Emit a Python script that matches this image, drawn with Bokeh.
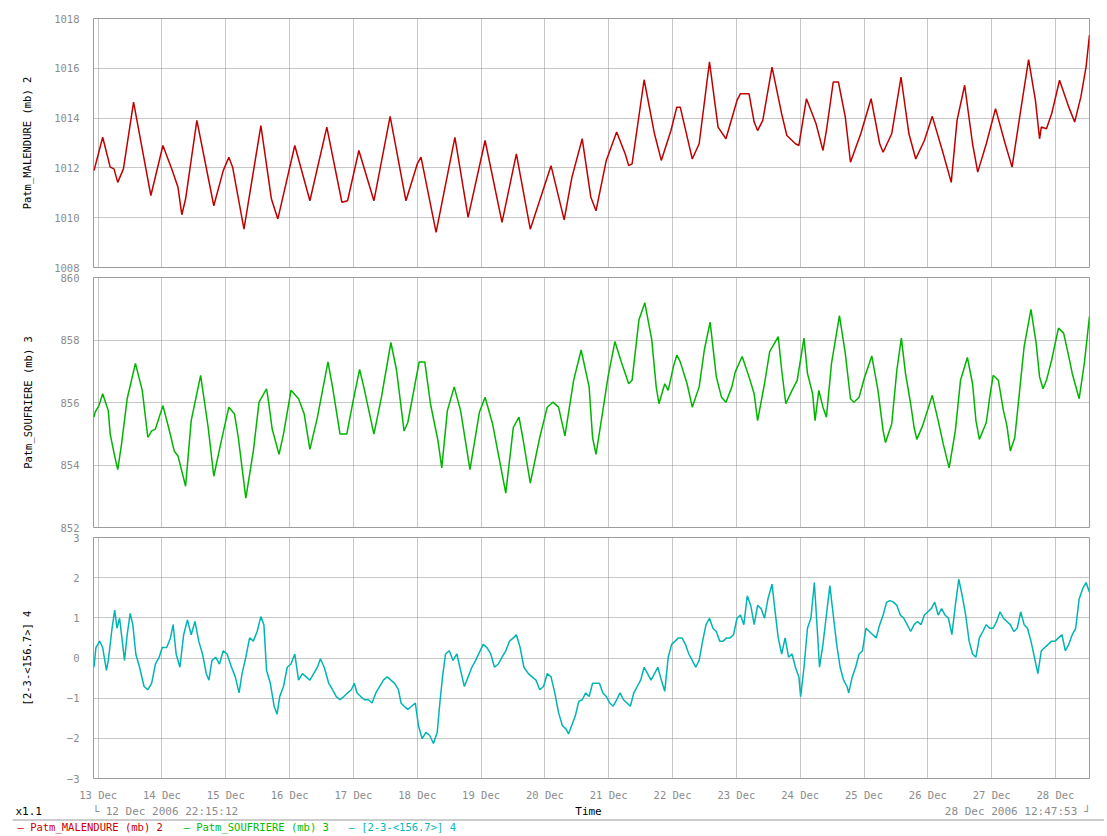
import datetime as dt
from bokeh.plotting import figure
from bokeh.layouts import column
from bokeh.models import Range1d, FixedTicker, DatetimeTickFormatter
from bokeh.embed import file_html
from bokeh.resources import INLINE
from bokeh.core.properties import value

# ---------------- data (time in days after 13 Dec 2006 00:00) ----------------
MAL_T = [-0.065, 0.071, 0.189, 0.248, 0.307, 0.396, 0.555, 0.826, 1.015, 1.163,
         1.251, 1.311, 1.370, 1.547, 1.812, 1.960, 2.048, 2.107, 2.285, 2.550,
         2.715, 2.816, 3.081, 3.318, 3.583, 3.819, 3.908, 4.085, 4.321, 4.575,
         4.823, 5.000, 5.059, 5.295, 5.590, 5.797, 6.063, 6.328, 6.553, 6.771,
         7.096, 7.302, 7.423, 7.585, 7.720, 7.801, 7.962, 8.124, 8.259, 8.313,
         8.366, 8.555, 8.717, 8.824, 8.975, 9.067, 9.121, 9.309, 9.417, 9.579,
         9.713, 9.837, 10.010, 10.064, 10.198, 10.279, 10.333, 10.414, 10.559, 10.710,
         10.791, 10.926, 10.980, 11.098, 11.249, 11.357, 11.411, 11.518, 11.599, 11.707,
         11.788, 11.949, 12.111, 12.246, 12.300, 12.434, 12.580, 12.704, 12.811, 12.946,
         13.070, 13.243, 13.367, 13.458, 13.577, 13.701, 13.782, 13.916, 14.061, 14.212,
         14.320, 14.455, 14.579, 14.686, 14.751, 14.778, 14.859, 14.940, 15.064, 15.209,
         15.301, 15.398, 15.479, 15.533]
MAL_V = [1011.89, 1013.23, 1012.03, 1011.96, 1011.42, 1011.96, 1014.64, 1010.89, 1012.90, 1011.89,
         1011.22, 1010.12, 1010.75, 1013.91, 1010.48, 1011.89, 1012.43, 1012.03, 1009.54, 1013.70,
         1010.75, 1009.95, 1012.90, 1010.68, 1013.64, 1010.62, 1010.68, 1012.70, 1010.68, 1014.07,
         1010.68, 1012.16, 1012.43, 1009.41, 1013.23, 1010.01, 1013.10, 1009.81, 1012.56, 1009.54,
         1012.09, 1009.91, 1011.62, 1013.17, 1010.82, 1010.28, 1012.30, 1013.44, 1012.56, 1012.09,
         1012.16, 1015.54, 1013.37, 1012.30, 1013.50, 1014.44, 1014.44, 1012.36, 1012.97, 1016.26,
         1013.64, 1013.17, 1014.71, 1014.98, 1014.98, 1013.84, 1013.50, 1013.91, 1016.05, 1014.17,
         1013.30, 1012.97, 1012.90, 1014.78, 1013.77, 1012.70, 1013.50, 1015.45, 1015.45, 1014.04,
         1012.23, 1013.37, 1014.78, 1012.97, 1012.63, 1013.37, 1015.65, 1013.37, 1012.36, 1013.10,
         1014.07, 1012.56, 1011.42, 1013.91, 1015.32, 1012.97, 1011.83, 1012.97, 1014.38, 1012.97,
         1012.03, 1014.31, 1016.35, 1014.71, 1013.17, 1013.64, 1013.57, 1014.17, 1015.52, 1014.44,
         1013.84, 1014.85, 1016.05, 1017.33]

SOU_T = [-0.065, -0.047, 0.012, 0.071, 0.159, 0.189, 0.248, 0.307, 0.366, 0.455,
         0.584, 0.691, 0.779, 0.838, 0.897, 1.015, 1.104, 1.192, 1.251, 1.370,
         1.458, 1.606, 1.724, 1.812, 1.930, 2.048, 2.137, 2.196, 2.314, 2.432,
         2.521, 2.639, 2.668, 2.727, 2.834, 2.904, 3.022, 3.140, 3.229, 3.318,
         3.436, 3.601, 3.672, 3.790, 3.896, 3.996, 4.097, 4.174, 4.321, 4.439,
         4.587, 4.675, 4.793, 4.852, 5.030, 5.118, 5.207, 5.325, 5.384, 5.472,
         5.579, 5.679, 5.826, 5.974, 6.063, 6.181, 6.387, 6.505, 6.594, 6.653,
         6.771, 6.919, 7.037, 7.125, 7.214, 7.314, 7.450, 7.568,
         7.693, 7.747, 7.801, 7.908, 7.989, 8.097, 8.205, 8.313, 8.366, 8.474,
         8.566, 8.674, 8.744, 8.787, 8.878, 8.932, 9.013, 9.067, 9.121, 9.228,
         9.309, 9.417, 9.498, 9.589, 9.686, 9.767, 9.837, 9.929, 9.983, 10.091,
         10.198, 10.279, 10.333, 10.441, 10.522, 10.656, 10.710, 10.775, 10.872, 10.953,
         11.060, 11.114, 11.195, 11.233, 11.292, 11.357, 11.411, 11.491, 11.615, 11.707,
         11.788, 11.842, 11.923, 12.003, 12.122, 12.219, 12.300, 12.337, 12.434, 12.515,
         12.585, 12.650, 12.731, 12.785, 12.828, 12.919, 13.070, 13.162, 13.243, 13.334,
         13.431, 13.512, 13.620, 13.701, 13.754, 13.808, 13.916, 13.970, 14.024, 14.105,
         14.185, 14.239, 14.293, 14.363, 14.428, 14.509, 14.616, 14.697, 14.751, 14.805,
         14.859, 14.940, 15.047, 15.128, 15.209, 15.263, 15.371, 15.452, 15.533]
SOU_V = [855.53, 855.69, 855.90, 856.28, 855.74, 854.99, 854.39, 853.85, 854.66, 856.12,
         857.25, 856.39, 854.88, 855.09, 855.15, 855.90, 855.20, 854.45, 854.29, 853.32,
         855.42, 856.87, 855.20, 853.64, 854.77, 855.85, 855.63, 854.88, 852.94, 854.45,
         856.01, 856.44, 856.06, 855.15, 854.34, 854.99, 856.39, 856.12, 855.63, 854.50,
         855.53, 857.30, 856.50, 854.99, 854.99, 856.06, 857.06, 856.39, 854.99, 856.17,
         857.92, 857.04, 855.09, 855.36, 857.30, 857.30, 855.96, 854.77, 853.91, 855.74,
         856.50, 855.74, 853.85, 855.69, 856.17, 855.31, 853.10, 855.20, 855.53, 854.88,
         853.42, 854.88, 855.85, 856.01, 855.85, 854.93, 856.71, 857.68,
         856.50, 854.88, 854.34, 855.74, 856.82, 857.95, 857.25, 856.60, 856.71, 858.65,
         859.19, 858.01, 856.50, 855.96, 856.60, 856.39, 857.14, 857.52, 857.30, 856.60,
         855.85, 856.50, 857.68, 858.57, 856.82, 856.17, 856.01, 856.50, 856.98, 857.47,
         856.82, 856.28, 855.42, 856.60, 857.63, 858.11, 857.04, 855.96, 856.39, 856.71,
         858.06, 856.93, 856.28, 855.42, 856.39, 855.85, 855.53, 857.25, 858.78, 857.57,
         856.12, 856.01, 856.17, 856.77, 857.49, 856.39, 855.09, 854.72, 855.31, 857.04,
         858.06, 856.93, 855.96, 855.20, 854.82, 855.26, 856.23, 855.42, 854.66, 853.91,
         855.09, 856.71, 857.44, 856.60, 855.42, 854.82, 855.36, 856.17, 856.87, 856.71,
         855.74, 855.26, 854.45, 854.88, 856.17, 857.79, 858.98, 857.90, 856.82, 856.44,
         856.71, 857.36, 858.38, 858.22, 857.47, 856.93, 856.12, 857.25, 858.76]

DIF_T = [-0.065, -0.035, 0.024, 0.071, 0.130, 0.159, 0.218, 0.260, 0.295, 0.336,
         0.366, 0.413, 0.455, 0.502, 0.543, 0.590, 0.649, 0.720, 0.779, 0.838,
         0.897, 0.956, 1.004, 1.074, 1.133, 1.175, 1.222, 1.281, 1.340, 1.399,
         1.458, 1.517, 1.576, 1.635, 1.694, 1.736, 1.783, 1.842, 1.901, 1.960,
         2.019, 2.090, 2.149, 2.208, 2.255, 2.314, 2.373, 2.432, 2.491, 2.550,
         2.597, 2.639, 2.698, 2.757, 2.804, 2.845, 2.904, 2.963, 3.022, 3.081,
         3.140, 3.200, 3.259, 3.318, 3.377, 3.436, 3.483, 3.542, 3.613, 3.672,
         3.731, 3.790, 3.849, 3.908, 3.967, 4.014, 4.056, 4.115, 4.174, 4.233,
         4.292, 4.351, 4.410, 4.469, 4.528, 4.587, 4.646, 4.705, 4.746, 4.793,
         4.852, 4.911, 4.970, 5.018, 5.077, 5.136, 5.195, 5.254, 5.313, 5.354,
         5.396, 5.443, 5.502, 5.561, 5.620, 5.679, 5.738, 5.797, 5.856, 5.915,
         5.974, 6.033, 6.092, 6.151, 6.210, 6.269, 6.328, 6.387, 6.446, 6.505,
         6.553, 6.612, 6.671, 6.741, 6.800, 6.860, 6.919, 6.978, 7.037, 7.096,
         7.155, 7.214, 7.273, 7.332, 7.370,
         7.477, 7.531, 7.585, 7.639, 7.693, 7.747, 7.801, 7.855, 7.908, 7.962,
         8.016, 8.070, 8.124, 8.178, 8.232, 8.286, 8.339, 8.393, 8.447, 8.501,
         8.555, 8.609, 8.663, 8.717, 8.770, 8.824, 8.878, 8.932, 8.986, 9.040,
         9.094, 9.148, 9.202, 9.255, 9.309, 9.363, 9.417, 9.471, 9.525, 9.579,
         9.633, 9.686, 9.740, 9.794, 9.848, 9.902, 9.956, 10.010, 10.064, 10.117,
         10.171, 10.225, 10.279, 10.333, 10.387, 10.441, 10.495, 10.559, 10.602, 10.656,
         10.710, 10.764, 10.818, 10.872, 10.926, 10.980, 11.007, 11.060, 11.114, 11.168,
         11.222, 11.276, 11.303, 11.357, 11.411, 11.465, 11.518, 11.572, 11.626, 11.680,
         11.734, 11.761, 11.815, 11.869, 11.923, 11.976, 12.030, 12.084, 12.138, 12.192,
         12.246, 12.300, 12.354, 12.407, 12.461, 12.515, 12.569, 12.623, 12.677, 12.731,
         12.785, 12.838, 12.892, 12.946, 13.000, 13.054, 13.108, 13.162, 13.216, 13.270,
         13.323, 13.377, 13.431, 13.485, 13.539, 13.593, 13.647, 13.701, 13.754, 13.808,
         13.862, 13.916, 13.970, 14.024, 14.078, 14.132, 14.185, 14.239, 14.293, 14.347,
         14.401, 14.455, 14.509, 14.562, 14.616, 14.670, 14.724, 14.778, 14.832, 14.886,
         14.940, 14.994, 15.047, 15.101, 15.155, 15.209, 15.263, 15.317, 15.371, 15.425,
         15.479, 15.533]
DIF_V = [-0.23, 0.26, 0.42, 0.26, -0.31, -0.06, 0.74, 1.19, 0.74, 0.99,
         0.58, -0.06, 0.58, 1.11, 0.83, 0.10, -0.23, -0.71, -0.79, -0.63,
         -0.15, 0.02, 0.26, 0.26, 0.50, 0.83, 0.10, -0.23, 0.58, 0.95,
         0.58, 0.91, 0.42, 0.10, -0.39, -0.55, -0.06, 0.02, -0.15, 0.18,
         0.10, -0.23, -0.47, -0.87, -0.39, 0.02, 0.50, 0.42, 0.66, 1.03,
         0.83, -0.31, -0.63, -1.20, -1.40, -0.96, -0.71, -0.23, -0.15, 0.10,
         -0.55, -0.39, -0.47, -0.55, -0.39, -0.23, -0.02, -0.23, -0.63, -0.79,
         -0.96, -1.04, -0.96, -0.87, -0.79, -0.63, -0.87, -0.96, -1.04, -1.04,
         -1.12, -0.87, -0.71, -0.55, -0.47, -0.55, -0.63, -0.79, -1.12, -1.20,
         -1.28, -1.20, -1.12, -1.68, -2.01, -1.85, -1.93, -2.13, -1.85, -1.12,
         -0.47, 0.10, 0.18, -0.06, 0.10, -0.31, -0.71, -0.47, -0.23, -0.06,
         0.14, 0.34, 0.26, 0.10, -0.23, -0.15, 0.02, 0.18, 0.42, 0.50,
         0.58, 0.26, -0.23, -0.39, -0.47, -0.55, -0.79, -0.71, -0.39, -0.47,
         -0.87, -1.36, -1.68, -1.77, -1.89,
         -1.44, -1.08, -1.04, -0.87, -0.96, -0.63, -0.63, -0.63, -0.87, -0.96,
         -1.12, -1.20, -1.04, -0.87, -1.04, -1.12, -1.20, -0.87, -0.71, -0.55,
         -0.23, -0.39, -0.55, -0.39, -0.23, -0.55, -0.83, 0.02, 0.34, 0.42,
         0.50, 0.50, 0.34, 0.10, -0.06, -0.23, -0.06, 0.42, 0.83, 0.99,
         0.74, 0.66, 0.42, 0.42, 0.50, 0.50, 0.58, 0.99, 1.07, 0.83,
         1.55, 1.31, 0.83, 1.31, 1.23, 0.99, 1.47, 1.84, 1.23, 0.50,
         0.10, 0.50, 0.02, 0.10, -0.23, -0.47, -0.96, -0.23, 0.74, 0.99,
         1.88, 0.50, -0.23, 0.34, 1.07, 1.80, 1.07, 0.34, -0.23, -0.55,
         -0.71, -0.87, -0.47, -0.23, 0.10, 0.18, 0.74, 0.66, 0.58, 0.50,
         0.83, 1.07, 1.39, 1.43, 1.39, 1.31, 1.07, 0.99, 0.83, 0.66,
         0.83, 0.91, 0.83, 1.07, 1.15, 1.23, 1.39, 1.07, 1.23, 1.07,
         0.99, 0.58, 1.31, 1.96, 1.55, 1.07, 0.42, 0.10, 0.02, 0.50,
         0.66, 0.83, 0.74, 0.74, 0.91, 1.15, 0.99, 0.91, 0.83, 0.66,
         0.74, 1.15, 0.83, 0.74, 0.42, 0.02, -0.39, 0.18, 0.26, 0.34,
         0.42, 0.42, 0.50, 0.58, 0.18, 0.34, 0.58, 0.74, 1.47, 1.72,
         1.88, 1.64]

LABELS = ["Patm_MALENDURE (mb) 2", "Patm_SOUFRIERE (mb) 3", "[2-3-<156.7>] 4"]
COLORS = ["#c00000", "#00b400", "#00b4b4"]
LEGEND_COLORS = ["#cc0000", "#00bb00", "#00b8b8"]
START_TXT = "\u2514 12 Dec 2006 22:15:12"
END_TXT = "28 Dec 2006 12:47:53 \u2518"

assert len(MAL_T) == len(MAL_V) and len(SOU_T) == len(SOU_V) and len(DIF_T) == len(DIF_V)

BASE = dt.datetime(2006, 12, 13)
START = dt.datetime(2006, 12, 12, 22, 15, 12)
END = dt.datetime(2006, 12, 28, 12, 47, 53)
EPOCH = dt.datetime(1970, 1, 1)
DAY_TICKS = [(dt.datetime(2006, 12, d) - EPOCH).total_seconds() * 1000.0 for d in range(13, 29)]

FONT = "DejaVu Sans Mono"
GRAY = "#8c8c8c"
W = 1099
LEFT, RIGHT = 93, 10


def to_dt(days):
    return [BASE + dt.timedelta(days=d) for d in days]


def panel(height, top, bottom, ylo, yhi, ystep, label, standoff, times, vals, color,
          show_x=False, overrides=None):
    p = figure(width=W, height=height, x_axis_type="datetime",
               x_range=Range1d(START, END), y_range=Range1d(ylo, yhi),
               output_backend="svg", toolbar_location=None,
               min_border_left=LEFT, min_border_right=RIGHT,
               min_border_top=top, min_border_bottom=bottom)
    p.outline_line_color = "#9c9c9c"
    p.outline_line_width = 1
    fmt = "%d %b"
    p.xaxis.ticker = FixedTicker(ticks=DAY_TICKS)
    p.xaxis.formatter = DatetimeTickFormatter(
        microseconds=fmt, milliseconds=fmt, seconds=fmt, minsec=fmt, minutes=fmt,
        hourmin=fmt, hours=fmt, days=fmt, months=fmt, years=fmt)
    p.yaxis.ticker = FixedTicker(ticks=list(range(ylo, yhi + 1, ystep)))
    if overrides:
        p.yaxis.major_label_overrides = overrides
    for ax in (p.xaxis[0], p.yaxis[0]):
        ax.axis_line_color = None
        ax.major_tick_line_color = None
        ax.minor_tick_line_color = None
        ax.major_label_text_font = FONT
        ax.major_label_text_font_size = "10.5px"
        ax.major_label_text_color = GRAY
    p.yaxis.major_label_standoff = 8
    p.xaxis.major_label_standoff = 4
    p.yaxis.axis_label = label
    p.yaxis.axis_label_text_font = FONT
    p.yaxis.axis_label_text_font_size = "10.5px"
    p.yaxis.axis_label_text_font_style = "normal"
    p.yaxis.axis_label_text_color = "black"
    p.yaxis.axis_label_standoff = standoff
    p.xaxis.visible = show_x
    for g in (p.xgrid[0], p.ygrid[0]):
        g.grid_line_color = "#8f8f8f"
        g.grid_line_dash = "1 1"
        g.grid_line_width = 1
    p.line(x=to_dt(times), y=vals, line_color=color, line_width=1.5)
    return p


p1 = panel(272, 18, 5, 1008, 1018, 2, LABELS[0], 18, MAL_T, MAL_V, COLORS[0])
p2 = panel(260, 5, 5, 852, 860, 2, LABELS[1], 24, SOU_T, SOU_V, COLORS[1])
p3 = panel(271, 5, 18, -3, 3, 1, LABELS[2], 31, DIF_T, DIF_V, COLORS[2], show_x=True,
           overrides={-3: "\u22123", -2: "\u22122", -1: "\u22121"})

# bottom strip (page y 803..835) as a separate root so its frame spans the full width:
# x data units equal page pixels, y data 0 is the strip's bottom edge.
QW, QH = 1104, 32
q = figure(width=QW, height=QH, x_range=Range1d(0, QW), y_range=Range1d(0, QH),
           output_backend="svg", toolbar_location=None, min_border=0,
           x_axis_location=None, y_axis_location=None)
q.grid.visible = False
q.outline_line_color = None
q.segment(x0=[12], y0=[15.5], x1=[QW], y1=[15.5], line_color="#9a9a9a", line_width=1)


def add_text(xs, ys, txts, colors, align="left", size="11px"):
    q.text(x=xs, y=ys, text=txts, text_color=colors, text_align=align,
           text_baseline="middle", text_font=value(FONT), text_font_size=size)


add_text([15], [24.5], ["x1.1"], ["black"])
add_text([92], [24.5], [START_TXT], [GRAY])
add_text([588], [24.5], ["Time"], ["black"], align="center")
add_text([1090], [24.5], [END_TXT], [GRAY], align="right")
add_text([17, 183, 348], [9, 9, 9], ["\u2014  " + s for s in LABELS], LEGEND_COLORS, size="10.5px")

layout = column(p1, p2, p3, spacing=0)
open("out.html", "w").write(file_html([layout, q], INLINE))
